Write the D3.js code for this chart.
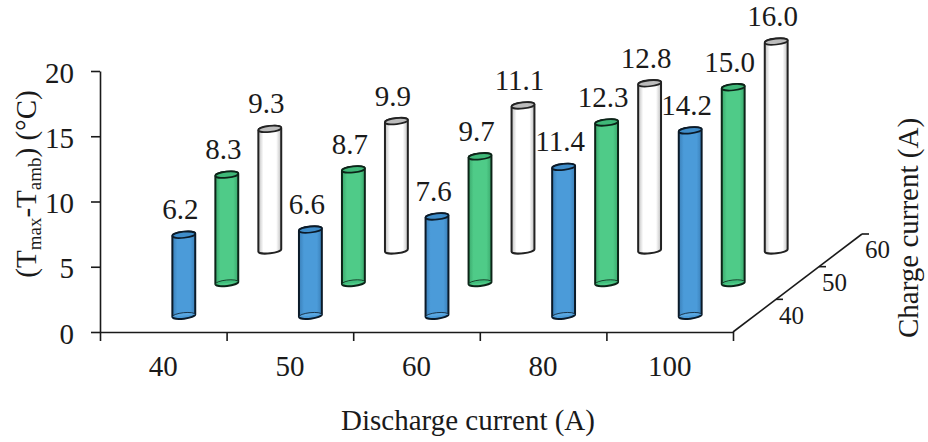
<!DOCTYPE html>
<html><head><meta charset="utf-8">
<script src="https://cdn.jsdelivr.net/npm/d3@7/dist/d3.min.js"></script>
<style>html,body{margin:0;background:#fff}svg{display:block}text{font-family:"Liberation Serif",serif;fill:#1a1a1a}</style>
</head><body><svg id="c" width="928" height="442"></svg>
<script>
const dischargeCurrents = ["40","50","60","80","100"];
const chargeCurrents = ["40","50","60"];
const charge40 = [6.2,6.6,7.6,11.4,14.2];
const charge50 = [8.3,8.7,9.7,12.3,15.0];
const charge60 = [9.3,9.9,11.1,12.8,16.0];
const seriesValues = [charge40,charge50,charge60];
const yTicks = [0,5,10,15,20];

const svg = d3.select("#c");
const y = d3.scaleLinear().domain([0,20]).range([332,71]);
const x = d3.scaleBand().domain(dischargeCurrents).range([100,733]);
const xEdges = d3.scaleLinear().domain([0,5]).range([100,733]);
const dx = d3.scalePoint().domain(chargeCurrents).range([0,129]).padding(0.5);
const dy = d3.scalePoint().domain(chargeCurrents).range([0,-98]).padding(0.5);
const dxEdges = d3.scaleLinear().domain([0,3]).range([0,129]);
const dyEdges = d3.scaleLinear().domain([0,3]).range([0,-98]);

const styles = [
 {side:"#4b9bd9",edge:"#3a7fb8",top:"#3f8dca",bot:"#5aa8e2",stroke:"#0b1a28"},
 {side:"#4fcb88",edge:"#3aa86c",top:"#3fb878",bot:"#3fbd7b",stroke:"#0c2418"},
 {side:"#ffffff",edge:"#bdbdbd",top:"#bcbcbc",bot:"#ffffff",stroke:"#222222"}];
const defs = svg.append("defs");
styles.forEach((s,i)=>{
  const g = defs.append("linearGradient").attr("id","g"+i);
  g.append("stop").attr("offset","0").attr("stop-color",s.edge);
  g.append("stop").attr("offset","0.22").attr("stop-color",s.side);
  g.append("stop").attr("offset","0.78").attr("stop-color",s.side);
  g.append("stop").attr("offset","1").attr("stop-color",s.edge);
});

// axes
function styleAxis(g){g.selectAll("path,line").attr("stroke","#1a1a1a").attr("stroke-width",1.6);g.selectAll("text").attr("font-family",'"Liberation Serif",serif').attr("fill","#1a1a1a");}
svg.append("g").attr("transform","translate(100,0)")
  .call(d3.axisLeft(y).tickValues(yTicks).tickSize(9).tickSizeOuter(0).tickPadding(17))
  .call(styleAxis).call(g=>g.selectAll("text").attr("font-size",29).attr("dy","0.38em"));
svg.append("g").attr("transform","translate(0,332)")
  .call(d3.axisBottom(xEdges).tickValues([0,1,2,3,4,5]).tickSize(9).tickSizeOuter(0).tickFormat(""))
  .call(styleAxis);
svg.append("g").attr("transform","translate(0,332)")
  .call(d3.axisBottom(x).tickSize(0).tickPadding(23))
  .call(styleAxis).call(g=>{g.select("path").remove();g.selectAll("text").attr("font-size",29).attr("dy","0.71em");});

// depth axis
const ox = 733, oy = 332;
svg.append("line").attr("x1",ox).attr("y1",oy).attr("x2",ox+dxEdges(3)).attr("y2",oy+dyEdges(3)).attr("stroke","#1a1a1a").attr("stroke-width",1.6);
svg.append("g").selectAll("line").data([1,2,3]).join("line")
  .attr("x1",d=>ox+dxEdges(d)).attr("y1",d=>oy+dyEdges(d))
  .attr("x2",d=>ox+dxEdges(d)+7).attr("y2",d=>oy+dyEdges(d))
  .attr("stroke","#1a1a1a").attr("stroke-width",1.6);
svg.append("g").selectAll("text").data(chargeCurrents).join("text")
  .attr("x",d=>ox+dx(d)+37).attr("y",d=>oy+dy(d)+8)
  .attr("text-anchor","middle").attr("font-size",25).text(d=>d);

// cylinders
const rx = 11.5, ry = 3, rot = -6, c = Math.cos(rot*Math.PI/180)*rx, sn = Math.sin(-rot*Math.PI/180)*rx;
const bars = [];
chargeCurrents.forEach((ch,si)=>dischargeCurrents.forEach((dc,ci)=>{
  bars.push({si,ch,dc,v:seriesValues[si][ci],
    cx:x(dc)+x.bandwidth()/2+dx(ch)-1,
    base:dy(ch),
  });
}));
const g = svg.append("g").selectAll("g").data(bars).join("g");
g.append("path")
  .attr("d",d=>{
    const yb = y(0)+d.base, yt = y(d.v)+d.base;
    return `M${d.cx-c},${yt+sn}L${d.cx-c},${yb+sn}A${rx},${ry} ${rot} 0 0 ${d.cx+c},${yb-sn}L${d.cx+c},${yt-sn}A${rx},${ry} ${rot} 0 0 ${d.cx-c},${yt+sn}Z`;
  })
  .attr("fill",d=>`url(#g${d.si})`).attr("stroke",d=>styles[d.si].stroke).attr("stroke-width",2);
g.append("ellipse")
  .attr("cx",d=>d.cx).attr("cy",d=>y(d.v)+d.base).attr("rx",rx).attr("ry",ry)
  .attr("transform",d=>`rotate(${rot} ${d.cx} ${y(d.v)+d.base})`)
  .attr("fill",d=>styles[d.si].top).attr("stroke",d=>styles[d.si].stroke).attr("stroke-width",1.7);
g.filter(d=>d.si<2).append("path")
  .attr("d",d=>{const yb=y(0)+d.base;return `M${d.cx-c},${yb+sn}A${rx},${ry} ${rot} 0 1 ${d.cx+c},${yb-sn}`;})
  .attr("fill",d=>styles[d.si].bot).attr("stroke",d=>styles[d.si].stroke).attr("stroke-width",0.8);
g.append("text")
  .attr("x",d=>d.cx-3.5).attr("y",d=>y(d.v)+d.base-15.5)
  .attr("text-anchor","middle").attr("font-size",29).text(d=>d.v.toFixed(1));

// titles
svg.append("text").attr("x",468).attr("y",430).attr("text-anchor","middle").attr("font-size",29).text("Discharge current (A)");
svg.append("text").attr("transform","translate(918,228) rotate(-90)").attr("text-anchor","middle").attr("font-size",29).text("Charge current (A)");
const yt = svg.append("text").attr("transform","translate(36,184) rotate(-90)").attr("text-anchor","middle").attr("font-size",29);
yt.append("tspan").text("(T");
yt.append("tspan").attr("font-size",19).attr("dy",5).text("max");
yt.append("tspan").attr("dy",-5).text("-T");
yt.append("tspan").attr("font-size",19).attr("dy",5).text("amb");
yt.append("tspan").attr("dy",-5).text(") (°C)");
</script></body></html>
